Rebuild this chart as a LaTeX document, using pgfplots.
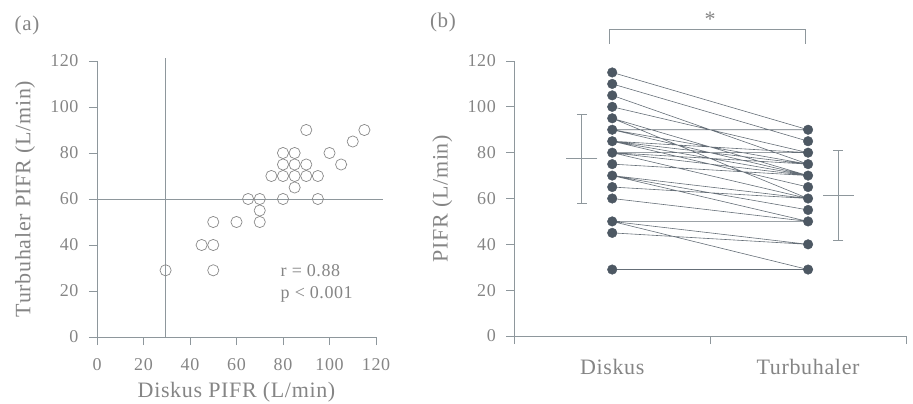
\documentclass[border=0pt]{standalone}
\usepackage{fontspec}
\setmainfont[LetterSpace=3]{Liberation Serif}
\usepackage{pgfplots}
\pgfplotsset{compat=1.18}
\definecolor{txt}{HTML}{858585}
\definecolor{axc}{HTML}{8E979C}
\definecolor{dot}{HTML}{4D5863}
\definecolor{ln}{HTML}{656E77}
\definecolor{circ}{HTML}{8A8A8A}
\pgfplotsset{
  panel/.style={
    scale only axis, clip=false,
    axis x line=bottom, axis y line=left,
    axis line style={-, draw=axc, line width=0.8pt},
    tick align=outside, major tick length=8pt,
    tick style={draw=axc, line width=0.8pt},
    ticklabel style={font=\fontsize{18}{21}\selectfont, text=txt},
    xticklabel style={yshift=-10pt},
    yticklabel style={xshift=-7pt},
    /pgf/number format/assume math mode=true,
    label style={font=\fontsize{22}{26}\selectfont, text=txt},
    ymin=0, ymax=120, ytick={0,20,...,120},
  }
}
\begin{document}
\begin{tikzpicture}[x=1pt,y=1pt]
\useasboundingbox (0,0) rectangle (913,-404);
\node[font=\fontsize{21}{25}\selectfont, text=txt] at (27,-25) {(a)};
\node[font=\fontsize{21}{25}\selectfont, text=txt] at (443,-22) {(b)};

% ---------- panel (a)
\begin{axis}[panel,
  at={(97pt,-337pt)}, anchor=south west,
  width=279pt, height=276pt,
  xmin=0, xmax=120, xtick={0,20,...,120},
  xlabel={Diskus PIFR (L/min)},
  ylabel={Turbuhaler PIFR (L/min)},
  xlabel style={at={(axis description cs:0.5,-0.2)}, anchor=center},
  ylabel style={at={(axis description cs:-0.258,0.5)}, anchor=center},
]
\addplot[axc, line width=0.8pt] coordinates {(29.5,0) (29.5,121.5)};
\addplot[axc, line width=0.8pt] coordinates {(0,60) (123,60)};
\addplot[only marks, mark=o, mark size=5.6pt, mark options={draw=circ, line width=0.7pt}] coordinates {
(29.5,29) (50,29) (45,40) (50,40) (50,50) (60,50) (65,60) (70,60) (70,55) (70,50)
(75,70) (80,80) (80,75) (80,70) (80,60) (85,80) (85,75) (85,70) (85,65)
(90,75) (90,70) (90,90) (95,70) (95,60) (100,80) (105,75) (110,85) (115,90)};
\node[anchor=west, font=\fontsize{18}{21}\selectfont, text=txt] at (axis cs:77.5,29) {r = 0.88};
\node[anchor=west, font=\fontsize{18}{21}\selectfont, text=txt] at (axis cs:77.5,18.5) {p < 0.001};
\end{axis}

% ---------- panel (b)
\begin{axis}[panel,
  at={(514.3pt,-336pt)}, anchor=south west,
  width=391.7pt, height=275pt,
  xmin=0, xmax=4, xtick={0,2,4}, xticklabels={},
  extra x ticks={1,3}, extra x tick labels={Diskus,Turbuhaler},
  extra x tick style={major tick style={draw=none},
     xticklabel style={font=\fontsize{22}{26}\selectfont, text=txt, yshift=-2pt}},
  ylabel={PIFR (L/min)},
  ylabel style={at={(axis description cs:-0.184,0.5)}, anchor=center},
]
\addplot[ln, line width=0.6pt, unbounded coords=jump] coordinates {
(1,29) (3,29) (2,nan)
(1,50) (3,29) (2,nan)
(1,45) (3,40) (2,nan)
(1,50) (3,40) (2,nan)
(1,50) (3,50) (2,nan)
(1,60) (3,50) (2,nan)
(1,65) (3,60) (2,nan)
(1,70) (3,60) (2,nan)
(1,70) (3,55) (2,nan)
(1,70) (3,50) (2,nan)
(1,75) (3,70) (2,nan)
(1,80) (3,80) (2,nan)
(1,80) (3,75) (2,nan)
(1,80) (3,70) (2,nan)
(1,80) (3,60) (2,nan)
(1,85) (3,80) (2,nan)
(1,85) (3,75) (2,nan)
(1,85) (3,70) (2,nan)
(1,85) (3,65) (2,nan)
(1,90) (3,75) (2,nan)
(1,90) (3,70) (2,nan)
(1,90) (3,90) (2,nan)
(1,95) (3,70) (2,nan)
(1,95) (3,60) (2,nan)
(1,100) (3,80) (2,nan)
(1,105) (3,75) (2,nan)
(1,110) (3,85) (2,nan)
(1,115) (3,90)};
\addplot[only marks, mark=*, mark size=4.8pt, mark options={fill=dot, draw=dot}] coordinates {
(1,29) (1,45) (1,50) (1,60) (1,65) (1,70) (1,75) (1,80) (1,85) (1,90) (1,95) (1,100) (1,105) (1,110) (1,115)};
\addplot[only marks, mark=*, mark size=4.8pt, mark options={fill=dot, draw=dot}] coordinates {
(3,29) (3,40) (3,50) (3,55) (3,60) (3,65) (3,70) (3,75) (3,80) (3,85) (3,90)};
\addplot[only marks, mark=-, mark size=15.5pt, mark options={draw=axc, line width=0.8pt},
  error bars/.cd, y dir=both, y explicit,
  error bar style={draw=axc, line width=0.8pt},
  error mark options={draw=axc, rotate=90, mark size=5pt, line width=0.8pt}]
  table[x=x, y=y, y error=e, row sep=\\] {x y e\\ 0.69 77.4 19.5\\ 3.31 61.5 19.6\\};
\draw[axc, line width=0.8pt] (axis cs:0.967,127.5) -- (axis cs:0.967,134) -- (axis cs:2.976,134) -- (axis cs:2.976,127.5);
\node[font=\fontsize{22}{26}\selectfont, text=txt] at (axis cs:2,138) {*};
\end{axis}
\end{tikzpicture}
\end{document}
